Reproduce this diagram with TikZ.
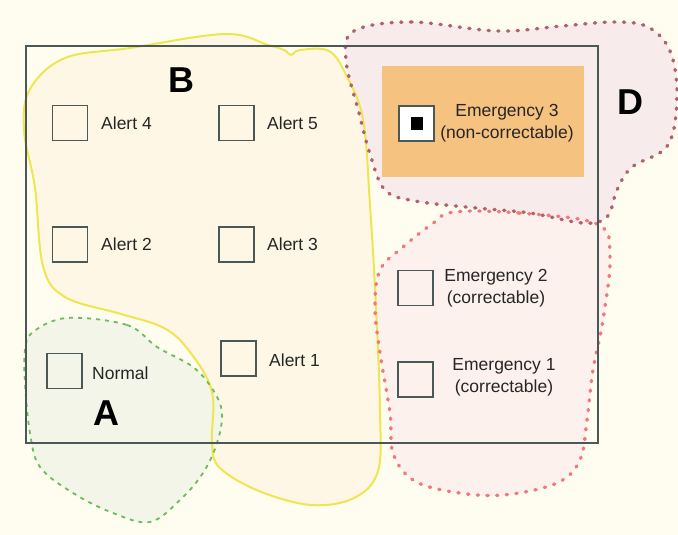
\documentclass[tikz,border=0pt]{standalone}
\usepackage{fontspec}
\setmainfont{Liberation Sans}
\definecolor{bgc}{HTML}{FFFDF0}
\definecolor{yfill}{HTML}{FEF7E6}
\definecolor{yline}{HTML}{EEE650}
\definecolor{gfill}{HTML}{F2F5E7}
\definecolor{gline}{HTML}{6DBB5A}
\definecolor{efill}{HTML}{FDF1EE}
\definecolor{eline}{HTML}{F07878}
\definecolor{dfill}{HTML}{F8EBEC}
\definecolor{dline}{HTML}{B0606E}
\definecolor{orangec}{HTML}{F6C27F}
\definecolor{framec}{HTML}{4A5858}
\begin{document}
\begin{tikzpicture}[x=1pt,y=-1pt,
  statebox/.style={draw=framec,line width=1.5pt,minimum size=35pt,inner sep=0pt},
  lbl/.style={font=\fontsize{17.5}{22}\selectfont,inner sep=0pt,text=black!85},
  big/.style={font=\fontsize{36}{40}\selectfont\bfseries,inner sep=0pt},
  dots/.style={line width=3.4pt,line cap=round,dash pattern=on 1.2pt off 8.5pt}]
\useasboundingbox (0,0) rectangle (678,535);
\fill[bgc] (0,0) rectangle (678,535);
% fills
\fill[yfill] plot[smooth cycle,tension=0.6] coordinates {(225,34) (268,45) (284,50) (291,55) (300,50) (329,51) (346,75) (363,119) (370,205) (376,307) (380,410) (378,471) (354,498) (311,505) (259,491) (220,468) (212,444) (212,392) (190,352) (164,328) (121,314) (65,297) (43,266) (35,188) (24,130) (30,89) (65,58) (130,48)};
\fill[gfill] plot[smooth cycle,tension=0.6] coordinates {(67,318) (127,325) (157,347) (193,367) (213,390) (222,413) (217,443) (203,473) (180,500) (150,522) (113,513) (73,493) (40,467) (30,433) (25,383) (25,350) (33,332)};
\fill[efill] plot[smooth cycle,tension=0.6] coordinates {(454,212) (519,213) (597,224) (610,256) (603,320) (593,370) (587,420) (580,460) (557,483) (503,495) (453,492) (413,480) (393,453) (390,413) (380,353) (375,307) (380,270) (403,247) (432,224)};
\fill[dfill] plot[smooth cycle,tension=0.6] coordinates {(354,31) (411,22) (497,31) (562,26) (614,22) (648,27) (670,51) (677,95) (668,145) (632,167) (617,190) (607,217) (583,223) (530,213) (476,208) (415,201) (385,190) (370,154) (359,113) (346,60)};
% outlines
\draw[yline,line width=2pt] plot[smooth cycle,tension=0.6] coordinates {(225,34) (268,45) (284,50) (291,55) (300,50) (329,51) (346,75) (363,119) (370,205) (376,307) (380,410) (378,471) (354,498) (311,505) (259,491) (220,468) (212,444) (212,392) (190,352) (164,328) (121,314) (65,297) (43,266) (35,188) (24,130) (30,89) (65,58) (130,48)};
\draw[gline,line width=1.8pt,dash pattern=on 4pt off 5pt] plot[smooth cycle,tension=0.6] coordinates {(67,318) (127,325) (157,347) (193,367) (213,390) (222,413) (217,443) (203,473) (180,500) (150,522) (113,513) (73,493) (40,467) (30,433) (25,383) (25,350) (33,332)};
\draw[eline,dots] plot[smooth cycle,tension=0.6] coordinates {(454,212) (519,213) (597,224) (610,256) (603,320) (593,370) (587,420) (580,460) (557,483) (503,495) (453,492) (413,480) (393,453) (390,413) (380,353) (375,307) (380,270) (403,247) (432,224)};
\draw[dline,dots] plot[smooth cycle,tension=0.6] coordinates {(354,31) (411,22) (497,31) (562,26) (614,22) (648,27) (670,51) (677,95) (668,145) (632,167) (617,190) (607,217) (583,223) (530,213) (476,208) (415,201) (385,190) (370,154) (359,113) (346,60)};
% orange box
\fill[orangec] (382,66) rectangle (584,177);
% frame
\draw[framec,line width=1.4pt] (26,46) rectangle (598,443);
% states
\node[statebox] (a4) at (70,123) {};
\node[lbl,anchor=west] (ta4) at (101,123) {Alert 4};
\node[statebox] (a5) at (236.5,123) {};
\node[lbl,anchor=west] (ta5) at (267,123) {Alert 5};
\node[statebox] (a2) at (70,244.5) {};
\node[lbl,anchor=west] (ta2) at (101,244) {Alert 2};
\node[statebox] (a3) at (236.5,244.5) {};
\node[lbl,anchor=west] (ta3) at (267,244) {Alert 3};
\node[statebox] (a1) at (238.5,358.5) {};
\node[lbl,anchor=west] (ta1) at (269,360) {Alert 1};
\node[statebox] (nm) at (64.5,371) {};
\node[lbl,anchor=west] (tnm) at (92,373) {Normal};
\node[statebox,fill=white] (e3) at (416.5,123.5) {};
\fill[black] ([xshift=-6pt,yshift=6pt]e3.center) rectangle ([xshift=6pt,yshift=-6pt]e3.center);
\node[lbl,align=center] (te3) at (507,123) {Emergency 3\\(non-correctable)};
\node[statebox] (e2) at (415.5,288) {};
\node[lbl,align=center] (te2) at (496,288.5) {Emergency 2\\(correctable)};
\node[statebox] (e1) at (415.5,379.5) {};
\node[lbl,align=center] (te1) at (504,377.5) {Emergency 1\\(correctable)};
% region letters
\node[big] (lb) at (181.6,80) {B};
\node[big] (ld) at (630,102) {D};
\node[big] (la) at (106,413) {A};
\end{tikzpicture}
\end{document}
